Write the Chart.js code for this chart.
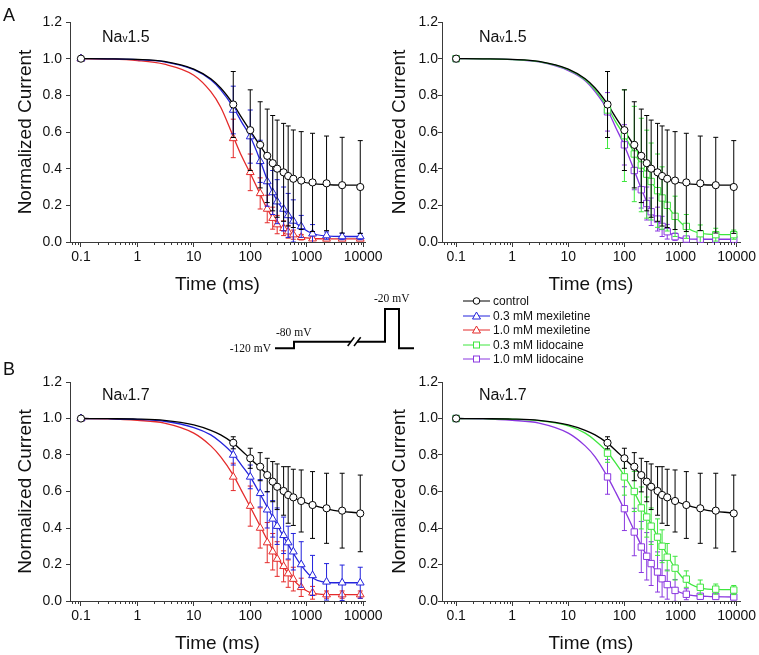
<!DOCTYPE html>
<html lang="en">
<head>
<meta charset="UTF-8">
<title>Inactivation time course, Nav1.5 and Nav1.7</title>
<style>
  body { margin: 0; width: 759px; height: 655px; overflow: hidden; background: #fff;
         font-family: "Liberation Sans", Arial, sans-serif; color: #111; }
  canvas { position: absolute; }
  .lbl { position: absolute; line-height: 1; white-space: nowrap; }
  .letter { font-size: 18px; }
  .nav { font-size: 16px; }
  .nav small { font-size: 10px; }
  .mv { font-family: "Liberation Serif", "Times New Roman", serif; font-size: 11.5px; }
  .leg { position: absolute; left: 463px; height: 14px; display: flex; align-items: center;
         font-size: 12px; white-space: nowrap; }
  .leg svg { margin-right: 3px; }
</style>
</head>
<body>
<canvas id="cA1" width="400" height="300" style="left:0;top:0"></canvas>
<canvas id="cA2" width="387" height="300" style="left:372px;top:0"></canvas>
<canvas id="cB1" width="400" height="300" style="left:0;top:360px"></canvas>
<canvas id="cB2" width="387" height="300" style="left:372px;top:360px"></canvas>
<canvas id="cP" width="150" height="60" style="left:270px;top:300px"></canvas>

<div class="lbl letter" style="left:3px;top:6px">A</div>
<div class="lbl letter" style="left:3px;top:360px">B</div>
<div class="lbl nav" style="left:102px;top:29px">Na<small>v</small>1.5</div>
<div class="lbl nav" style="left:479px;top:29px">Na<small>v</small>1.5</div>
<div class="lbl nav" style="left:102px;top:387px">Na<small>v</small>1.7</div>
<div class="lbl nav" style="left:479px;top:387px">Na<small>v</small>1.7</div>
<div class="lbl mv" style="right:488px;top:343px">-120 mV</div>
<div class="lbl mv" style="left:276px;top:327px">-80 mV</div>
<div class="lbl mv" style="left:374px;top:293px">-20 mV</div>
<div id="legend"></div>

<script src="https://cdn.jsdelivr.net/npm/chart.js"></script>
<script>
// sampled times of the data points (ms)
const tPts = [0.1, 50, 100, 150, 200, 250, 300, 390, 470, 580, 800, 1270, 2250, 4250, 8900];
const fitT = [0.1, 0.3, 1, 3, 10, 20, 30, 50, 70, 100, 150, 200, 300, 500, 800, 1300, 3000, 8900];

const xTicks = [0.1, 1, 10, 100, 1000, 10000];
const xTickLabels = ['0.1', '1', '10', '100', '1000', '10000'];
const yTicks = [0, 0.2, 0.4, 0.6, 0.8, 1.0, 1.2];
const yTickLabels = ['0.0', '0.2', '0.4', '0.6', '0.8', '1.0', '1.2'];

// Nav1.5
const ctrl15     = [1.0, 0.75, 0.61, 0.53, 0.47, 0.43, 0.40, 0.38, 0.36, 0.345, 0.335, 0.325, 0.32, 0.31, 0.30];
const ctrl15Err  = [0, 0.18, 0.22, 0.235, 0.255, 0.26, 0.265, 0.267, 0.273, 0.266, 0.267, 0.268, 0.258, 0.261, 0.253];
const ctrl15Fit  = [1.0, 0.999, 0.996, 0.985, 0.943, 0.89, 0.84, 0.752, 0.68, 0.607, 0.525, 0.47, 0.405, 0.355, 0.33, 0.318, 0.311, 0.31];
const mex03_15    = [1.0, 0.72, 0.575, 0.44, 0.33, 0.27, 0.22, 0.18, 0.145, 0.115, 0.085, 0.045, 0.035, 0.03, 0.03];
const mex03_15Err = [0, 0.13, 0.145, 0.115, 0.135, 0.12, 0.12, 0.12, 0.12, 0.115, 0.06, 0.05, 0.02, 0.017, 0.017];
const mex03_15Fit = [1.0, 0.999, 0.995, 0.983, 0.94, 0.885, 0.83, 0.735, 0.655, 0.575, 0.445, 0.34, 0.225, 0.135, 0.08, 0.045, 0.031, 0.03];
const mex10_15    = [1.0, 0.565, 0.38, 0.265, 0.18, 0.13, 0.095, 0.075, 0.056, 0.04, 0.026, 0.018, 0.017, 0.017, 0.017];
const mex10_15Err = [0, 0.105, 0.10, 0.085, 0.075, 0.06, 0.05, 0.04, 0.035, 0.025, 0.015, 0.01, 0.008, 0.008, 0.008];
const mex10_15Fit = [1.0, 0.998, 0.99, 0.97, 0.91, 0.82, 0.735, 0.575, 0.47, 0.375, 0.26, 0.18, 0.10, 0.045, 0.026, 0.019, 0.017, 0.017];
const lid03_15    = [1.0, 0.72, 0.58, 0.48, 0.42, 0.37, 0.33, 0.28, 0.24, 0.20, 0.14, 0.085, 0.045, 0.04, 0.04];
const lid03_15Err = [0, 0.21, 0.25, 0.26, 0.255, 0.24, 0.21, 0.20, 0.17, 0.14, 0.11, 0.065, 0.048, 0.035, 0.025];
const lid03_15Fit = [1.0, 0.999, 0.995, 0.984, 0.94, 0.885, 0.83, 0.735, 0.655, 0.58, 0.485, 0.42, 0.33, 0.23, 0.14, 0.078, 0.043, 0.04];
const lid10_15    = [1.0, 0.71, 0.53, 0.39, 0.285, 0.21, 0.165, 0.125, 0.085, 0.056, 0.029, 0.016, 0.015, 0.015, 0.015];
const lid10_15Err = [0, 0.105, 0.11, 0.105, 0.10, 0.09, 0.075, 0.065, 0.055, 0.04, 0.02, 0.01, 0.008, 0.008, 0.008];
const lid10_15Fit = [1.0, 0.999, 0.995, 0.982, 0.935, 0.88, 0.82, 0.72, 0.625, 0.525, 0.39, 0.29, 0.17, 0.075, 0.032, 0.017, 0.015, 0.015];

// Nav1.7
const ctrl17     = [1.0, 0.867, 0.782, 0.736, 0.69, 0.654, 0.626, 0.603, 0.581, 0.568, 0.548, 0.526, 0.508, 0.495, 0.48];
const ctrl17Err  = [0, 0.033, 0.055, 0.077, 0.092, 0.11, 0.125, 0.133, 0.155, 0.154, 0.17, 0.183, 0.192, 0.205, 0.21];
const ctrl17Fit  = [1.0, 0.999, 0.997, 0.99, 0.965, 0.935, 0.91, 0.865, 0.825, 0.78, 0.73, 0.692, 0.635, 0.578, 0.548, 0.525, 0.497, 0.482];
const mex03_17    = [1.0, 0.80, 0.68, 0.59, 0.50, 0.45, 0.41, 0.36, 0.32, 0.27, 0.20, 0.14, 0.105, 0.10, 0.10];
const mex03_17Err = [0, 0.055, 0.065, 0.075, 0.10, 0.10, 0.10, 0.10, 0.09, 0.10, 0.125, 0.11, 0.10, 0.097, 0.085];
const mex03_17Fit = [1.0, 0.999, 0.995, 0.985, 0.95, 0.91, 0.87, 0.805, 0.745, 0.68, 0.585, 0.515, 0.415, 0.295, 0.195, 0.125, 0.10, 0.10];
const mex10_17    = [1.0, 0.68, 0.52, 0.40, 0.32, 0.27, 0.23, 0.19, 0.15, 0.12, 0.075, 0.045, 0.035, 0.035, 0.035];
const mex10_17Err = [0, 0.075, 0.11, 0.11, 0.11, 0.10, 0.095, 0.085, 0.075, 0.065, 0.05, 0.035, 0.02, 0.02, 0.02];
const mex10_17Fit = [1.0, 0.998, 0.99, 0.975, 0.92, 0.85, 0.79, 0.69, 0.605, 0.515, 0.41, 0.335, 0.24, 0.14, 0.075, 0.042, 0.035, 0.035];
const lid03_17    = [1.0, 0.81, 0.68, 0.60, 0.51, 0.46, 0.41, 0.35, 0.30, 0.24, 0.18, 0.12, 0.075, 0.065, 0.06];
const lid03_17Err = [0, 0.05, 0.10, 0.11, 0.115, 0.11, 0.10, 0.10, 0.09, 0.075, 0.065, 0.045, 0.04, 0.028, 0.025];
const lid03_17Fit = [1.0, 0.999, 0.996, 0.988, 0.96, 0.92, 0.88, 0.815, 0.755, 0.685, 0.595, 0.52, 0.42, 0.29, 0.18, 0.105, 0.065, 0.062];
const lid10_17    = [1.0, 0.68, 0.506, 0.378, 0.296, 0.245, 0.205, 0.159, 0.122, 0.09, 0.058, 0.037, 0.026, 0.025, 0.022];
const lid10_17Err = [0, 0.095, 0.12, 0.13, 0.14, 0.13, 0.12, 0.11, 0.10, 0.08, 0.06, 0.03, 0.015, 0.01, 0.01];
const lid10_17Fit = [1.0, 0.998, 0.99, 0.975, 0.92, 0.85, 0.79, 0.68, 0.595, 0.50, 0.385, 0.305, 0.205, 0.11, 0.06, 0.035, 0.025, 0.022];

// voltage protocol schematic (arbitrary units)
const protoT1 = [5, 24, 24, 81];
const protoV1 = [0, 0, 1, 1];
const protoT2 = [87, 115, 115, 129, 129, 144];
const protoV2 = [1, 1, 6, 6, 0, 0];
const slashT1 = [77.7, 84.3];
const slashT2 = [84.0, 90.7];
const slashV  = [0.35, 1.68];

const legendLabels = ['control', '0.3 mM mexiletine', '1.0 mM mexiletine', '0.3 mM lidocaine', '1.0 mM lidocaine'];

const BLACK = '#000000', BLUE = '#2323dc', RED = '#e42a2a', GREEN = '#3ee63e', PURPLE = '#8a37e0';
const FONT = '"Liberation Sans", Arial, sans-serif';
const AXIS = '#3a3a3a';
const radiusFor = { circle: 3.6, triangle: 4.5, rect: 4.5 };

const errorBars = {
  id: 'errorBars',
  beforeDatasetDraw(chart, args) {
    const ds = chart.data.datasets[args.index];
    if (!ds.errs) return;
    const y = chart.scales.y, a = chart.chartArea, ctx = chart.ctx;
    ctx.save();
    ctx.beginPath();
    ctx.rect(a.left - 10, a.top - 10, a.right - a.left + 20, a.bottom - a.top + 10);
    ctx.clip();
    ctx.strokeStyle = ds.borderColor;
    ctx.lineWidth = 1;
    args.meta.data.forEach((pt, i) => {
      const e = ds.errs[i];
      if (!e) return;
      const v = ds.data[i].y;
      const y1 = y.getPixelForValue(v + e), y2 = y.getPixelForValue(v - e);
      ctx.beginPath();
      ctx.moveTo(pt.x, y1); ctx.lineTo(pt.x, y2);
      ctx.moveTo(pt.x - 2.5, y1); ctx.lineTo(pt.x + 2.5, y1);
      ctx.moveTo(pt.x - 2.5, y2); ctx.lineTo(pt.x + 2.5, y2);
      ctx.stroke();
    });
    ctx.restore();
  }
};

const minorTicks = {
  id: 'minorTicks',
  afterDraw(chart) {
    const x = chart.scales.x, ctx = chart.ctx, yb = chart.chartArea.bottom;
    ctx.save();
    ctx.strokeStyle = AXIS;
    ctx.lineWidth = 1;
    ctx.beginPath();
    for (let p = -2; p <= 4; p++) {
      for (let m = 2; m <= 9; m++) {
        const v = m * Math.pow(10, p);
        if (v < x.min || v > x.max) continue;
        const px = Math.round(x.getPixelForValue(v)) + 0.5;
        ctx.moveTo(px, yb); ctx.lineTo(px, yb + 3);
      }
    }
    ctx.stroke();
    ctx.restore();
  }
};

function panel(id, o) {
  const datasets = [];
  o.series.forEach(s => datasets.push({
    data: tPts.map((t, i) => ({ x: t, y: s.means[i] })),
    errs: s.errs,
    showLine: false,
    pointStyle: s.shape,
    pointRadius: radiusFor[s.shape],
    pointBorderWidth: 1,
    pointBorderColor: s.color,
    pointBackgroundColor: '#ffffff',
    borderColor: s.color,
    clip: false
  }));
  o.series.forEach(s => datasets.push({
    data: fitT.map((t, i) => ({ x: t, y: s.fit[i] })),
    showLine: true,
    pointRadius: 0,
    borderColor: s.color,
    borderWidth: 1.3,
    cubicInterpolationMode: 'monotone',
    fill: false,
    clip: false
  }));

  new Chart(document.getElementById(id), {
    type: 'scatter',
    data: { datasets },
    plugins: [errorBars, minorTicks],
    options: {
      responsive: false,
      animation: false,
      events: [],
      layout: { padding: { left: 0, top: 22, right: o.padRight, bottom: o.padBottom } },
      plugins: { legend: { display: false }, tooltip: { enabled: false } },
      scales: {
        x: {
          type: 'logarithmic',
          min: o.xMin, max: o.xMax,
          afterBuildTicks: s => { s.ticks = xTicks.map(v => ({ value: v })); },
          afterFit: s => { s.height = 55; s.paddingLeft = 0; s.paddingRight = 0; },
          ticks: { autoSkip: false, maxRotation: 0, padding: 2, color: '#111',
                   font: { family: FONT, size: 14 },
                   callback: (v, i) => xTickLabels[i] },
          grid: { drawOnChartArea: false, tickLength: 5, color: AXIS },
          border: { color: AXIS, width: 1 },
          title: { display: true, text: 'Time (ms)', color: '#111',
                   font: { family: FONT, size: 19 }, padding: { top: 0, bottom: 1 } }
        },
        y: {
          type: 'linear',
          min: 0, max: 1.2,
          afterBuildTicks: s => { s.ticks = yTicks.map(v => ({ value: v })); },
          afterFit: s => { s.width = 70; s.paddingTop = 0; s.paddingBottom = 0; },
          ticks: { padding: o.yTickPad, color: '#111', font: { family: FONT, size: 14 },
                   callback: (v, i) => yTickLabels[i] },
          grid: { drawOnChartArea: false, tickLength: 4, color: AXIS },
          border: { color: AXIS, width: 1 },
          title: { display: true, text: 'Normalized Current', color: '#111',
                   font: { family: FONT, size: 19 }, padding: { top: o.titlePad, bottom: 0 } }
        }
      }
    }
  });
}

const leftPanel = { xMin: 0.064, xMax: 10800, padRight: 35, yTickPad: 4, titlePad: 14 };
const rightPanel = { xMin: 0.056, xMax: 11500, padRight: 19, yTickPad: 0, titlePad: 16 };

panel('cA1', Object.assign({ padBottom: 3, series: [
  { means: ctrl15, errs: ctrl15Err, fit: ctrl15Fit, color: BLACK, shape: 'circle' },
  { means: mex03_15, errs: mex03_15Err, fit: mex03_15Fit, color: BLUE, shape: 'triangle' },
  { means: mex10_15, errs: mex10_15Err, fit: mex10_15Fit, color: RED, shape: 'triangle' }
] }, leftPanel));

panel('cA2', Object.assign({ padBottom: 3, series: [
  { means: ctrl15, errs: ctrl15Err, fit: ctrl15Fit, color: BLACK, shape: 'circle' },
  { means: lid03_15, errs: lid03_15Err, fit: lid03_15Fit, color: GREEN, shape: 'rect' },
  { means: lid10_15, errs: lid10_15Err, fit: lid10_15Fit, color: PURPLE, shape: 'rect' }
] }, rightPanel));

panel('cB1', Object.assign({ padBottom: 4, series: [
  { means: ctrl17, errs: ctrl17Err, fit: ctrl17Fit, color: BLACK, shape: 'circle' },
  { means: mex03_17, errs: mex03_17Err, fit: mex03_17Fit, color: BLUE, shape: 'triangle' },
  { means: mex10_17, errs: mex10_17Err, fit: mex10_17Fit, color: RED, shape: 'triangle' }
] }, leftPanel));

panel('cB2', Object.assign({ padBottom: 4, series: [
  { means: ctrl17, errs: ctrl17Err, fit: ctrl17Fit, color: BLACK, shape: 'circle' },
  { means: lid03_17, errs: lid03_17Err, fit: lid03_17Fit, color: GREEN, shape: 'rect' },
  { means: lid10_17, errs: lid10_17Err, fit: lid10_17Fit, color: PURPLE, shape: 'rect' }
] }, rightPanel));

// voltage protocol
const seg = (xs, ys, w) => ({
  data: xs.map((x, i) => ({ x, y: ys[i] })),
  showLine: true, pointRadius: 0, borderColor: '#000', borderWidth: w,
  borderJoinStyle: 'miter', borderCapStyle: 'butt', clip: false
});
new Chart(document.getElementById('cP'), {
  type: 'scatter',
  data: { datasets: [
    seg(protoT1, protoV1, 2), seg(protoT2, protoV2, 2),
    seg(slashT1, slashV, 1.5), seg(slashT2, slashV, 1.5)
  ] },
  options: {
    responsive: false, animation: false, events: [],
    layout: { padding: 0 },
    plugins: { legend: { display: false }, tooltip: { enabled: false } },
    scales: {
      x: { type: 'linear', min: 0, max: 150, display: false },
      y: { type: 'linear', min: -1.79, max: 7.37, display: false }
    }
  }
});

// legend
const legColors = [BLACK, BLUE, RED, GREEN, PURPLE];
const legShapes = ['circle', 'triangle', 'triangle', 'rect', 'rect'];
const legend = document.getElementById('legend');
legendLabels.forEach((txt, i) => {
  const c = legColors[i];
  let mark;
  if (legShapes[i] === 'circle') mark = `<circle cx="13.5" cy="7" r="3.3" fill="#fff" stroke="${c}"/>`;
  else if (legShapes[i] === 'triangle') mark = `<polygon points="13.5,3 17.5,10 9.5,10" fill="#fff" stroke="${c}"/>`;
  else mark = `<rect x="10.5" y="4" width="6" height="6" fill="#fff" stroke="${c}"/>`;
  const row = document.createElement('div');
  row.className = 'leg';
  row.style.top = (294 + i * 14.6) + 'px';
  row.innerHTML = `<svg width="27" height="14"><line x1="0" y1="7" x2="27" y2="7" stroke="${c}" stroke-width="1"/>${mark}</svg><span>${txt}</span>`;
  legend.appendChild(row);
});
</script>
</body>
</html>
